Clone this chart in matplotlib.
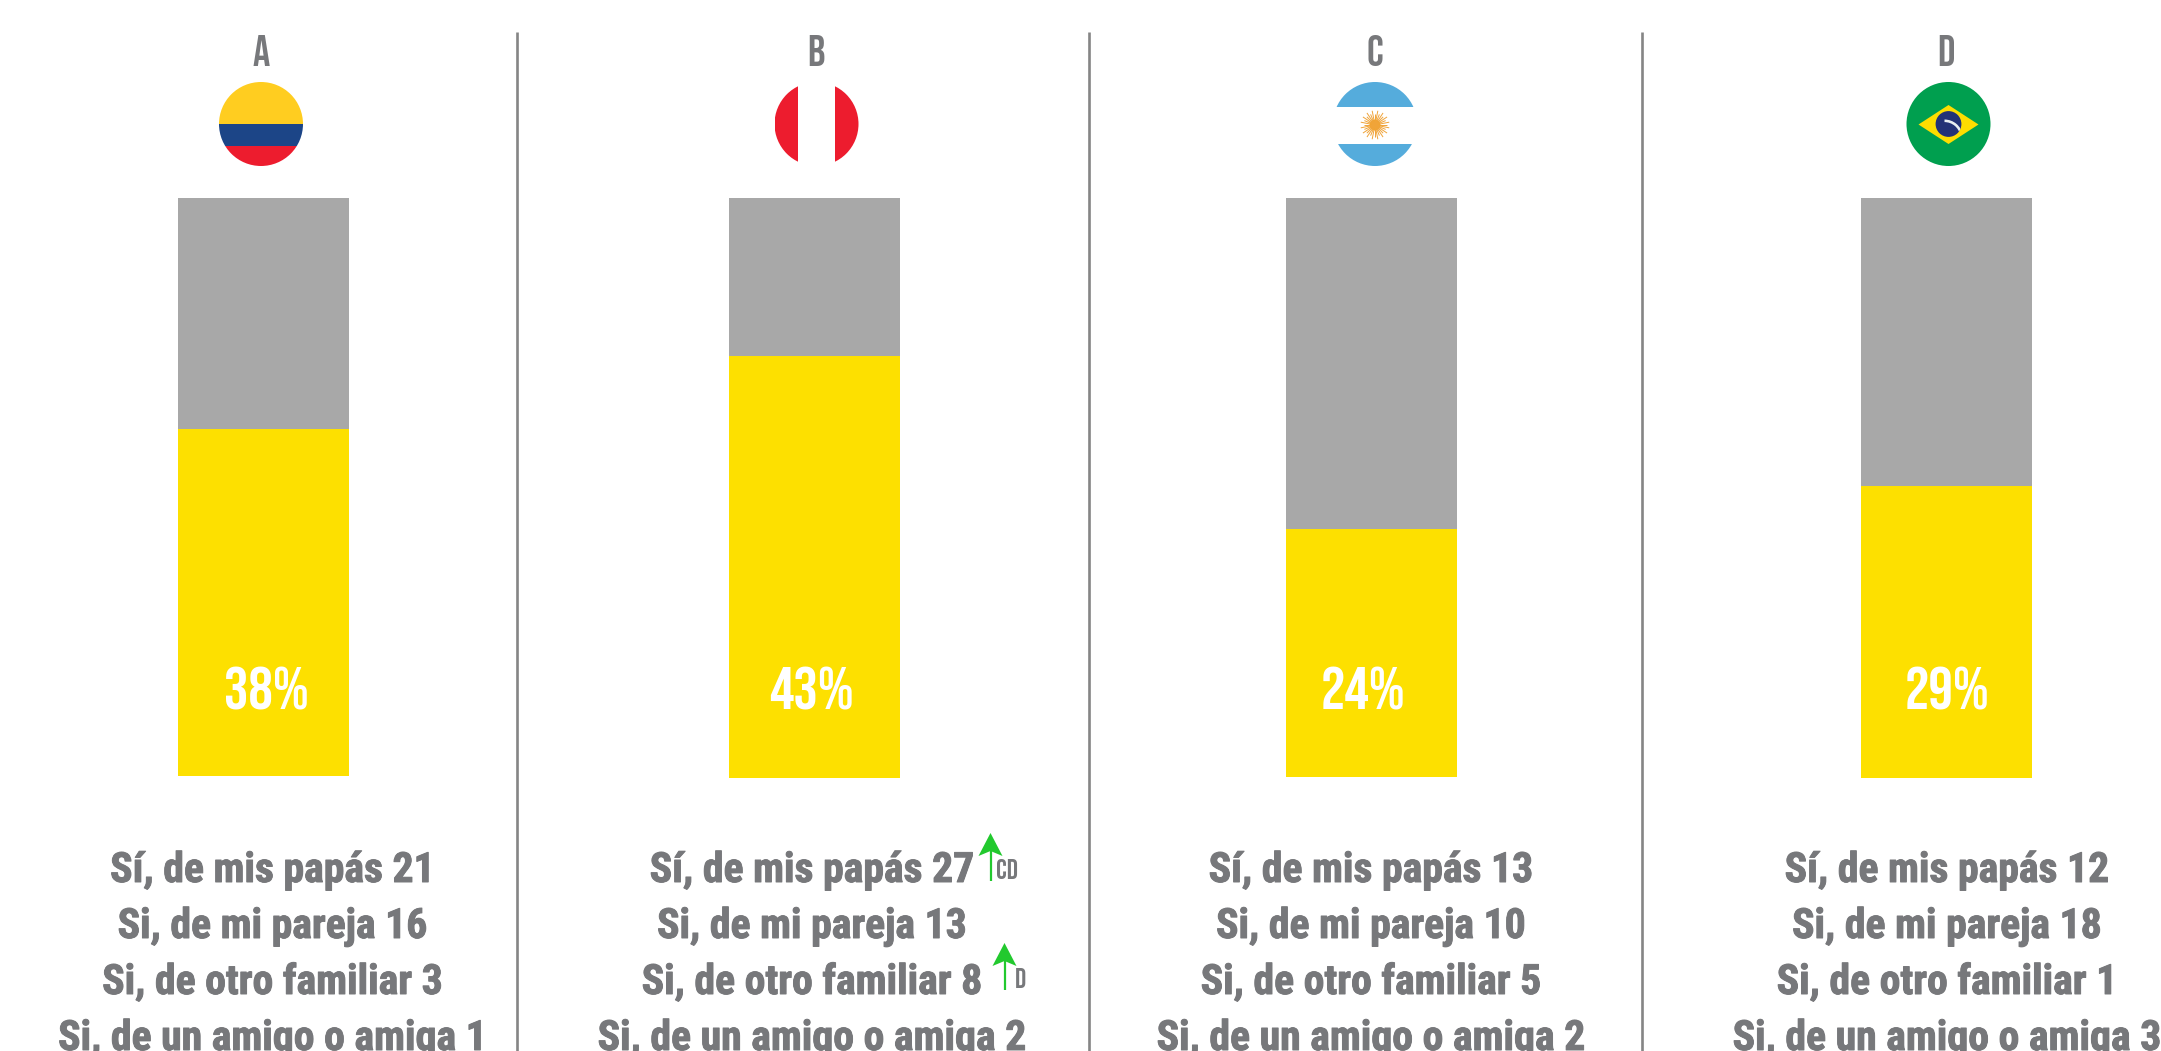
"""Four-country bars with flags and the answer breakdown under each one."""

import matplotlib
matplotlib.use("Agg")
import matplotlib.patheffects as pe
import matplotlib.pyplot as plt
import numpy as np
from matplotlib.collections import LineCollection
from matplotlib.patches import Circle, Polygon, Rectangle, Wedge

W, H = 2161, 1051

PANELS = ["A", "B", "C", "D"]
PCT_LABELS = ["38%", "43%", "24%", "29%"]
# yellow share of each column (not the printed label)
YELLOW_SHARE = [59.9, 72.7, 42.8, 50.3]
GREY_SHARE = [40.1, 27.3, 57.2, 49.7]

ROW_LABELS = ["Sí, de mis papás", "Si, de mi pareja", "Si, de otro familiar", "Si, de un amigo o amiga"]
PAPAS = [21, 27, 13, 12]
PAREJA = [16, 13, 10, 18]
FAMILIAR = [3, 8, 5, 1]
AMIGO = [1, 2, 2, 3]

GREY_TEXT = "#77787b"
YELLOW = "#fde000"
GREY_BAR = "#a8a8a8"
GREEN = "#22c92e"
RULE = "#858585"

TALL = ["Bebas Neue", "Roboto Condensed", "DejaVu Sans"]
BODY = ["Roboto Condensed", "Liberation Sans", "DejaVu Sans"]

BAR_LEFT = [178, 729, 1286, 1861]
BAR_BOTTOM = [775.5, 778, 776.5, 777.5]
BAR_TOP = 197.5
BAR_W = 171
LETTER_X = [261, 816, 1375, 1946]
FLAG_X = [261, 816.5, 1375, 1948.5]
PCT_X = [266, 812, 1363, 1947]
TEXT_X = [272.5, 812, 1371, 1947]
RULES_X = [516.5, 1088.5, 1642]
ROW_Y = [882, 938, 994, 1050]


def flag_colombia(ax, cx, cy, r):
    clip = Circle((cx, cy), r, transform=ax.transData)
    for top, bottom, color in ((cy - r, cy, "#ffcd20"), (cy, cy + 22, "#1c4587"), (cy + 22, cy + r, "#ed1c2e")):
        ax.add_patch(Rectangle((cx - r, top), 2 * r, bottom - top, color=color, lw=0, clip_path=clip))


def flag_peru(ax, cx, cy, r):
    clip = Circle((cx, cy), r, transform=ax.transData)
    ax.add_patch(Rectangle((cx - r, cy - r), r - 18.5, 2 * r, color="#ed1c2e", lw=0, clip_path=clip))
    ax.add_patch(Rectangle((cx + 18.5, cy - r), r - 18.5, 2 * r, color="#ed1c2e", lw=0, clip_path=clip))


def flag_argentina(ax, cx, cy, r):
    clip = Circle((cx, cy), r, transform=ax.transData)
    ax.add_patch(Rectangle((cx - r, cy - r), 2 * r, r - 17, color="#55acdc", lw=0, clip_path=clip))
    ax.add_patch(Rectangle((cx - r, cy + 20), 2 * r, r - 20, color="#55acdc", lw=0, clip_path=clip))
    sun_y = cy + 1
    angles = np.linspace(0, 2 * np.pi, 32, endpoint=False)
    rays = [[(cx, sun_y), (cx + (14.5 if k % 2 else 11.5) * np.cos(a), sun_y + (14.5 if k % 2 else 11.5) * np.sin(a))]
            for k, a in enumerate(angles)]
    ax.add_collection(LineCollection(rays, colors="#f0a43a", linewidths=0.7))
    ax.add_patch(Circle((cx, sun_y), 5.5, color="#f5a623", lw=0))


def flag_brazil(ax, cx, cy, r):
    ax.add_patch(Circle((cx, cy), r, color="#009f4f", lw=0))
    ax.add_patch(Polygon([(cx - 30, cy + 0.5), (cx, cy - 19), (cx + 30, cy + 0.5), (cx, cy + 20)], color="#fedd00", lw=0))
    disc = Circle((cx, cy), 12.9, color="#233277", lw=0)
    ax.add_patch(disc)
    band = Wedge((cx - 4, cy + 14), 18.5, 270, 350, width=2.6, color="#e8eef2", lw=0)
    ax.add_patch(band)
    band.set_clip_path(disc)


def up_arrow(ax, x, tip, tail):
    ax.plot([x, x], [tip + 15, tail], color=GREEN, lw=1.6, solid_capstyle="butt")
    ax.add_patch(Polygon([(x, tip), (x + 12, tip + 23), (x, tip + 18), (x - 12, tip + 23)], color=GREEN, lw=0))


def draw_bar(fig, i):
    """One column, with its own 0-100 scale so the shares stay plain values."""
    bottom = BAR_BOTTOM[i]
    ax = fig.add_axes([BAR_LEFT[i] / W, 1 - bottom / H, BAR_W / W, (bottom - BAR_TOP) / H])
    ax.bar([0], [YELLOW_SHARE[i]], width=1, color=YELLOW)
    ax.bar([0], [GREY_SHARE[i]], width=1, bottom=[YELLOW_SHARE[i]], color=GREY_BAR)
    ax.set_xlim(-0.5, 0.5)
    ax.set_ylim(0, 100)
    ax.axis("off")


def main():
    fig = plt.figure(figsize=(W / 100, H / 100), dpi=100, facecolor="white")
    ax = fig.add_axes([0, 0, 1, 1])
    ax.set_xlim(0, W)
    ax.set_ylim(H, 0)
    ax.axis("off")

    for x in RULES_X:
        ax.plot([x, x], [32, H], color=RULE, lw=1.9, solid_capstyle="butt")

    heavier = [pe.withStroke(linewidth=0.7, foreground=GREY_TEXT)]
    flags = [flag_colombia, flag_peru, flag_argentina, flag_brazil]
    for i, name in enumerate(PANELS):
        ax.text(LETTER_X[i], 66, name, family=TALL, fontsize=31, color=GREY_TEXT, ha="center", va="baseline")
        flags[i](ax, FLAG_X[i], 124, 42)
        draw_bar(fig, i)
        rows = [PAPAS[i], PAREJA[i], FAMILIAR[i], AMIGO[i]]
        for label, value, y in zip(ROW_LABELS, rows, ROW_Y):
            ax.text(TEXT_X[i], y, f"{label} {value}", family=BODY, weight="bold", fontsize=30,
                    color=GREY_TEXT, ha="center", va="baseline", path_effects=heavier)

    # percent labels sit above the bar axes
    top = fig.add_axes([0, 0, 1, 1], facecolor="none")
    top.set_xlim(0, W)
    top.set_ylim(H, 0)
    top.axis("off")
    for i, label in enumerate(PCT_LABELS):
        top.text(PCT_X[i], 709, label, family=TALL, fontsize=44, color="white", ha="center", va="baseline")

    up_arrow(ax, 990.5, 833, 881)
    up_arrow(ax, 1004.5, 943, 990)
    ax.text(1007, 879, "CD", family=TALL, fontsize=20, color=GREY_TEXT, ha="center", va="baseline")
    ax.text(1020.5, 988, "D", family=TALL, fontsize=20, color=GREY_TEXT, ha="center", va="baseline")

    fig.savefig("out.png", dpi=100)


if __name__ == "__main__":
    main()
